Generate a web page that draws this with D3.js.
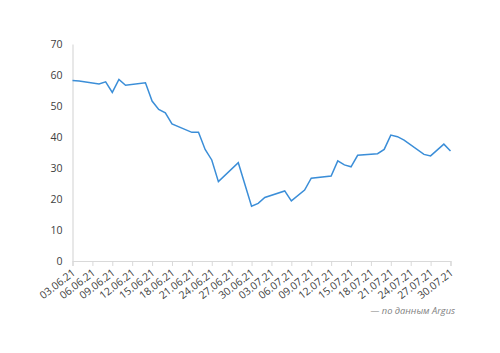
<!DOCTYPE html>
<html><head><meta charset="utf-8">
<script src="https://cdn.jsdelivr.net/npm/d3@7"></script>
<style>body{margin:0;background:#fff}svg{display:block}</style>
</head><body>
<svg id="c" width="500" height="353"></svg>
<script>
const dates = ["03.06.21","04.06.21","07.06.21","08.06.21","09.06.21","10.06.21","11.06.21","14.06.21","15.06.21","16.06.21","17.06.21","18.06.21","21.06.21","22.06.21","23.06.21","24.06.21","25.06.21","28.06.21","30.06.21","01.07.21","02.07.21","05.07.21","06.07.21","08.07.21","09.07.21","12.07.21","13.07.21","14.07.21","15.07.21","16.07.21","19.07.21","20.07.21","21.07.21","22.07.21","23.07.21","26.07.21","27.07.21","29.07.21","30.07.21"];
const prices = [58.2,58.1,57.1,57.8,54.4,58.6,56.7,57.5,51.6,48.9,47.8,44.2,41.5,41.5,36.0,32.6,25.6,31.7,17.7,18.6,20.5,22.6,19.4,22.9,26.7,27.4,32.3,31.0,30.4,34.1,34.6,36.0,40.6,40.1,39.0,34.4,33.9,37.7,35.5];
const tickLabels = ["03.06.21","06.06.21","09.06.21","12.06.21","15.06.21","18.06.21","21.06.21","24.06.21","27.06.21","30.06.21","03.07.21","06.07.21","09.07.21","12.07.21","15.07.21","18.07.21","21.07.21","24.07.21","27.07.21","30.07.21"];
const yTicks = [0,10,20,30,40,50,60,70];
const sourceText = "— по данным Argus";

const parse = d3.timeParse("%d.%m.%y");
const data = dates.map((d,i)=>({date:parse(d), v:prices[i]}));
const svg = d3.select("#c");
const font = "'Open Sans', sans-serif";

const x = d3.scaleTime().domain([parse(tickLabels[0]), parse(tickLabels[tickLabels.length-1])]).range([72.5, 450.5]);
const y = d3.scaleLinear().domain([0,70]).range([261, 44]);

// Y axis
const ya = svg.append("g").attr("transform","translate(72.5,0)")
  .call(d3.axisLeft(y).tickValues(yTicks).tickSize(0).tickPadding(10));
ya.select(".domain").attr("stroke","#d9d9d9").attr("stroke-width",1.2);
ya.selectAll("text").attr("font-family",font).attr("font-size",10.5).attr("fill","#404040");

// X axis
const xa = svg.append("g").attr("transform","translate(0,261)")
  .call(d3.axisBottom(x).tickValues(tickLabels.map(parse)).tickSize(5).tickFormat(d3.timeFormat("%d.%m.%y")));
xa.select(".domain").attr("stroke","#d9d9d9").attr("stroke-width",1.2);
xa.selectAll(".tick line").attr("stroke","#d9d9d9");
xa.selectAll("text").attr("font-family",font).attr("font-size",10.5).attr("fill","#404040")
  .attr("text-anchor","end").attr("dy",null).attr("y",0)
  .attr("transform","translate(3,13) rotate(-38)");

// Line
svg.append("path").datum(data)
  .attr("fill","none").attr("stroke","#3b8ed8").attr("stroke-width",1.5)
  .attr("d", d3.line().x(d=>x(d.date)).y(d=>y(d.v)));

// Source
svg.append("text").attr("x",455).attr("y",314).attr("text-anchor","end")
  .attr("font-family",font).attr("font-size",9.3).attr("font-style","italic").attr("fill","#7f7f7f")
  .text(sourceText);
</script>
</body></html>
